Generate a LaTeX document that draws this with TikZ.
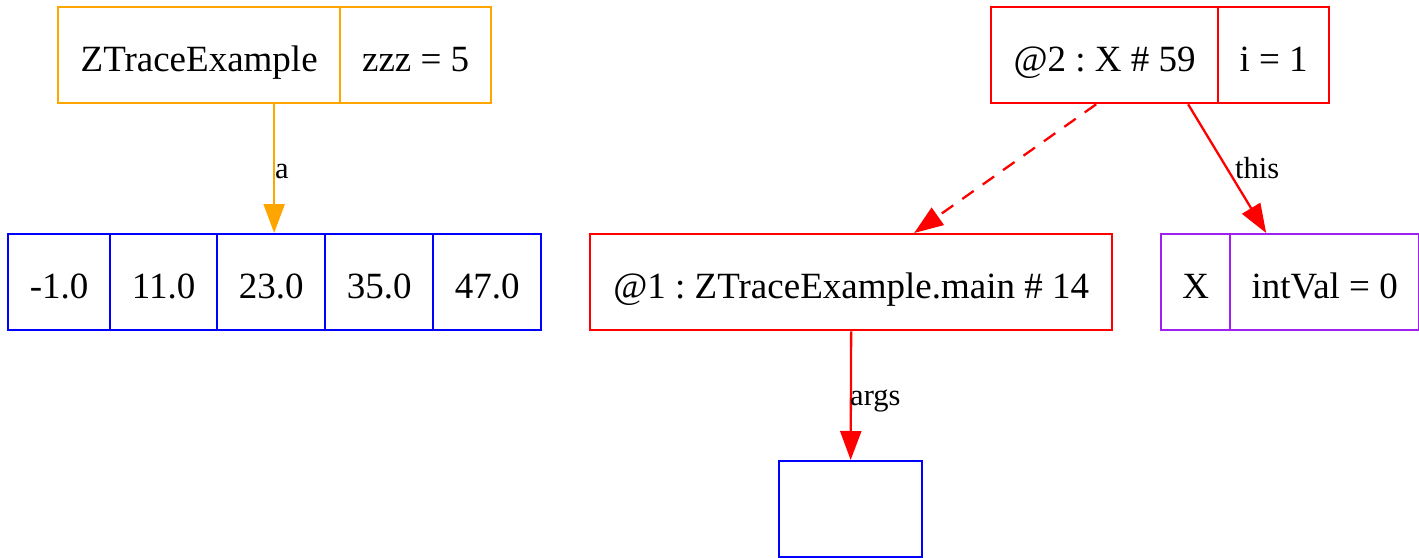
\documentclass[tikz,border=0pt]{standalone}
\usepackage{fontspec}
\setmainfont{Liberation Serif}
\usetikzlibrary{arrows.meta,calc}
\frenchspacing
\newcommand\cellfont{\fontsize{37}{44}\selectfont}
\newcommand\labfont{\fontsize{30.5}{36}\selectfont}
\definecolor{zorange}{RGB}{255,165,0}
\definecolor{zblue}{RGB}{0,0,255}
\definecolor{zred}{RGB}{255,0,0}
\definecolor{zpurple}{RGB}{160,32,240}
\begin{document}
\begin{tikzpicture}[x=1pt,y=-1pt,
  cell/.style={draw, line width=2.3pt, minimum height=96pt, inner sep=0pt,
    anchor=north west, text height=34pt, text depth=2pt, text=black, font=\cellfont},
  edge/.style={line width=2.3pt, -{Triangle[length=29pt,width=21pt]}},
  elabel/.style={anchor=base west, inner sep=0pt, text=black, font=\labfont}]
\useasboundingbox (0,0) rectangle (1419,557);
% class ZTraceExample
\node[cell, draw=zorange, minimum width=282pt] (zt1) at (57,6) {ZTraceExample};
\node[cell, draw=zorange, minimum width=151pt] (zt2) at (339,6) {zzz = 5};
% array
\node[cell, draw=zblue, minimum width=102pt] (arr1) at (7,233) {-1.0};
\node[cell, draw=zblue, minimum width=107pt] (arr2) at (109,233) {11.0};
\node[cell, draw=zblue, minimum width=108pt] (arr3) at (216,233) {23.0};
\node[cell, draw=zblue, minimum width=108pt] (arr4) at (324,233) {35.0};
\node[cell, draw=zblue, minimum width=108pt] (arr5) at (432,233) {47.0};
% frame @2
\node[cell, draw=zred, minimum width=227pt] (o2a) at (990,6) {@2 : X \# 59};
\node[cell, draw=zred, minimum width=111pt] (o2b) at (1217,6) {i = 1};
% frame @1
\node[cell, draw=zred, minimum width=522pt] (o1) at (589,233) {@1 : ZTraceExample.main \# 14};
% object X
\node[cell, draw=zpurple, minimum width=69pt] (xa) at (1160,233) {X};
\node[cell, draw=zpurple, minimum width=189pt] (xb) at (1229,233) {intVal = 0};
% empty array
\node[cell, draw=zblue, minimum width=143pt] (empty) at (778,460) {};
% edges
\draw[edge, zorange] ([xshift=75pt]zt1.south) -- ([xshift=3pt]arr3.north);
\draw[edge, zred, dash pattern=on 14pt off 11pt] ([xshift=-8.5pt]o2a.south) -- ([xshift=63pt]o1.north);
\draw[edge, zred] ([xshift=83.5pt]o2a.south) -- ([xshift=-58.5pt]xb.north);
\draw[edge, zred] (o1.south) -- (empty.north);
% labels
\node[elabel] (la) at (275,178) {a};
\node[elabel] (lthis) at (1235,178) {this};
\node[elabel] (largs) at (850,405) {args};
\end{tikzpicture}
\end{document}
